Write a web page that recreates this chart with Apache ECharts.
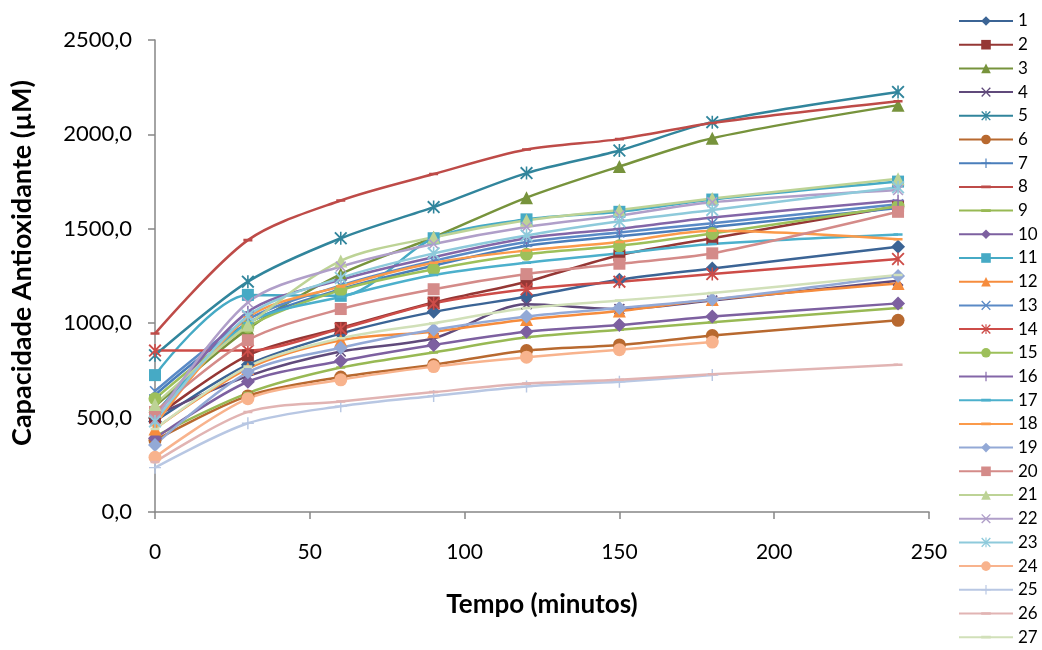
<!DOCTYPE html>
<html>
<head>
<meta charset="utf-8">
<script src="https://cdn.jsdelivr.net/npm/echarts@6/dist/echarts.min.js"></script>
<style>
html,body{margin:0;padding:0;background:#fff;}
#chart{width:1042px;height:650px;}
</style>
</head>
<body>
<div id="chart"></div>
<script>
const xValues = [0, 30, 60, 90, 120, 150, 180, 240];
const seriesNames = ['1','2','3','4','5','6','7','8','9','10','11','12','13','14','15','16','17','18','19','20','21','22','23','24','25','26','27'];
const s1  = [480, 780, 945, 1060, 1140, 1230, 1290, 1405];
const s2  = [500, 830, 975, 1110, 1220, 1360, 1450, 1620];
const s3  = [560, 970, 1260, 1455, 1665, 1830, 1980, 2155];
const s4  = [510, 720, 850, 920, 1100, 1075, 1120, 1225];
const s5  = [830, 1220, 1450, 1615, 1795, 1915, 2065, 2225];
const s6  = [380, 615, 715, 780, 855, 885, 935, 1015];
const s7  = [620, 1000, 1180, 1305, 1410, 1460, 1510, 1610];
const s8  = [945, 1440, 1650, 1790, 1920, 1975, 2060, 2175];
const s9  = [400, 630, 765, 845, 925, 965, 1005, 1080];
const s10 = [390, 690, 800, 885, 955, 990, 1035, 1105];
const s11 = [725, 1150, 1145, 1450, 1550, 1590, 1655, 1750];
const s12 = [440, 760, 910, 955, 1020, 1065, 1125, 1210];
const s13 = [640, 1020, 1200, 1330, 1430, 1480, 1530, 1630];
const s14 = [855, 855, 970, 1105, 1180, 1220, 1260, 1340];
const s15 = [600, 980, 1175, 1285, 1365, 1410, 1475, 1620];
const s16 = [510, 1060, 1230, 1350, 1450, 1500, 1560, 1650];
const s17 = [520, 1000, 1140, 1255, 1320, 1370, 1420, 1470];
const s18 = [460, 1030, 1195, 1320, 1385, 1430, 1490, 1445];
const s19 = [355, 740, 870, 965, 1035, 1080, 1125, 1250];
const s20 = [530, 910, 1075, 1180, 1260, 1315, 1370, 1590];
const s21 = [570, 990, 1330, 1455, 1545, 1600, 1660, 1765];
const s22 = [490, 1110, 1300, 1420, 1510, 1570, 1640, 1705];
const s23 = [480, 1040, 1240, 1370, 1465, 1540, 1600, 1720];
const s24 = [290, 600, 700, 770, 820, 860, 900];
const s25 = [235, 470, 560, 615, 665, 690, 725];
const s26 = [265, 530, 585, 635, 680, 700, 730, 780];
const s27 = [440, 770, 920, 1000, 1080, 1120, 1160, 1255];
const allValues = [s1,s2,s3,s4,s5,s6,s7,s8,s9,s10,s11,s12,s13,s14,s15,s16,s17,s18,s19,s20,s21,s22,s23,s24,s25,s26,s27];

const colors = ['#3b6495','#953735','#77933c','#604a7b','#31859c','#b8692f','#4a7ebb','#be4b48','#98b954',
  '#7d60a0','#46aac5','#f68c3d','#5a8ac6','#cd4c48','#9dc05a','#8366a8','#4cb0cc','#fb9a4a',
  '#93a9d6','#d48b89','#bdd396','#b09fc9','#8ecadb','#f8b38d','#b8c7e3','#e1b4b3','#d1e0b9'];

const P_X = 'path://M0,1 L1,0 L5,4 L9,0 L10,1 L6,5 L10,9 L9,10 L5,6 L1,10 L0,9 L4,5 Z';
const P_AST = 'path://M0,1 L1,0 L5,4 L9,0 L10,1 L6,5 L10,9 L9,10 L5,6 L1,10 L0,9 L4,5 Z M4.4,0 L5.6,0 L5.6,10 L4.4,10 Z';
const P_PLUS = 'path://M4.4,0 L5.6,0 L5.6,4.4 L10,4.4 L10,5.6 L5.6,5.6 L5.6,10 L4.4,10 L4.4,5.6 L0,5.6 L0,4.4 L4.4,4.4 Z';
const P_DASH = 'path://M0,0 L0.01,0 L0.01,0.01 Z M0,3.6 L10,3.6 L10,6.4 L0,6.4 Z M9.99,9.99 L10,9.99 L10,10 Z';
const markerCycle = [
  ['diamond', 14], ['rect', 12], ['triangle', 13], [P_X, 11], [P_AST, 13], ['circle', 13], [P_PLUS, 12], [P_DASH, 9], [P_DASH, 9]
];

const series = allValues.map((vals, i) => {
  const m = markerCycle[i % 9];
  return {
    name: seriesNames[i],
    type: 'line',
    smooth: 0.3,
    data: vals.map((v, j) => [xValues[j], v]),
    symbol: m[0],
    symbolSize: m[1],
    showAllSymbol: true,
    itemStyle: { color: colors[i] },
    lineStyle: { color: colors[i], width: 2.5 },
    emphasis: { disabled: true },
    animation: false
  };
});

const chart = echarts.init(document.getElementById('chart'), null, { renderer: 'canvas' });
const fontFam = 'Lato, "Open Sans", sans-serif';
chart.setOption({
  animation: false,
  backgroundColor: '#ffffff',
  grid: { left: 155, right: 113, top: 40, bottom: 138, containLabel: false },
  legend: {
    orient: 'vertical',
    left: 958,
    top: 12.5,
    bottom: -40,
    padding: 0,
    itemWidth: 54,
    itemHeight: 12,
    itemGap: 6.7,
    textStyle: { fontFamily: fontFam, fontSize: 17, color: '#000' },
    data: seriesNames
  },
  graphic: [{
    type: 'text',
    x: 22, y: 263,
    rotation: Math.PI / 2,
    style: {
      text: 'Capacidade Antioxidante (µM)',
      fontFamily: fontFam, fontSize: 27, fontWeight: 'bold', fill: '#000',
      align: 'center', verticalAlign: 'middle'
    }
  }],
  xAxis: {
    type: 'value',
    min: 0, max: 250, interval: 50,
    name: 'Tempo (minutos)',
    nameLocation: 'middle',
    nameGap: 80,
    nameTextStyle: { fontFamily: fontFam, fontSize: 26, fontWeight: 'bold', color: '#000' },
    axisLine: { lineStyle: { color: '#868686', width: 1.5 } },
    axisTick: { show: true, inside: false, length: 7, lineStyle: { color: '#868686', width: 1.5 } },
    axisLabel: { fontFamily: fontFam, fontSize: 21, color: '#000', margin: 30 },
    splitLine: { show: false }
  },
  yAxis: {
    type: 'value',
    min: 0, max: 2500, interval: 500,
    axisLine: { show: true, lineStyle: { color: '#868686', width: 1.5 } },
    axisTick: { show: true, inside: false, length: 7, lineStyle: { color: '#868686', width: 1.5 } },
    axisLabel: { fontFamily: fontFam, fontSize: 22, color: '#000', margin: 23,
      formatter: v => v.toFixed(1).replace('.', ',') },
    splitLine: { show: false }
  },
  series: series
});
</script>
</body>
</html>
